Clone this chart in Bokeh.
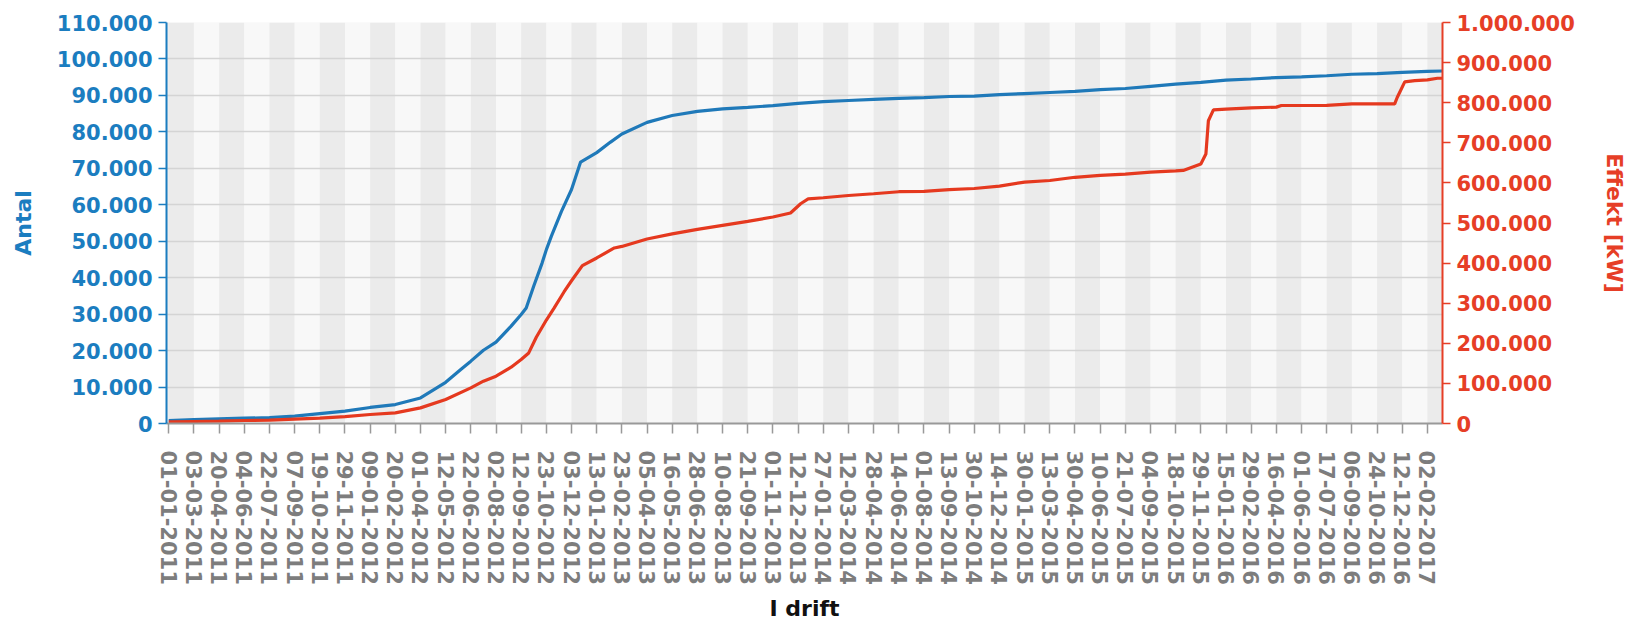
from bokeh.plotting import figure
from bokeh.models import Range1d, LinearAxis, FixedTicker
from bokeh.embed import file_html
from bokeh.resources import INLINE

# ---- data ----
date_labels = [
    "01-01-2011", "03-03-2011", "20-04-2011", "04-06-2011", "22-07-2011", "07-09-2011",
    "19-10-2011", "29-11-2011", "09-01-2012", "20-02-2012", "01-04-2012", "12-05-2012",
    "22-06-2012", "02-08-2012", "12-09-2012", "23-10-2012", "03-12-2012", "13-01-2013",
    "23-02-2013", "05-04-2013", "16-05-2013", "28-06-2013", "10-08-2013", "21-09-2013",
    "01-11-2013", "12-12-2013", "27-01-2014", "12-03-2014", "28-04-2014", "14-06-2014",
    "01-08-2014", "13-09-2014", "30-10-2014", "14-12-2014", "30-01-2015", "13-03-2015",
    "30-04-2015", "10-06-2015", "21-07-2015", "04-09-2015", "18-10-2015", "29-11-2015",
    "15-01-2016", "29-02-2016", "16-04-2016", "01-06-2016", "17-07-2016", "06-09-2016",
    "24-10-2016", "12-12-2016", "02-02-2017",
]

# category index (position along the date axis) of each sample
antal_idx = [0, 1, 2, 3, 4, 5, 6, 7, 8, 9, 10,
             11, 11.6, 12, 12.5, 13, 13.6, 14, 14.2, 14.5, 14.83,
             15, 15.2, 15.6, 16, 16.36,
             17, 17.55, 18, 19, 20, 21, 22, 23, 24, 25, 26, 27, 28, 29, 30, 31, 32, 33,
             34, 35, 36, 37, 38, 39, 40, 41, 42, 43, 44, 45, 46, 47, 48, 49, 50,
             50.6]
antal_val = [800, 1100, 1300, 1450, 1600, 2000, 2700, 3400, 4400, 5200, 7000,
             11300, 14800, 17100, 20100, 22300, 26700, 29900, 31700, 37700, 44000,
             47700, 51400, 58200, 64200, 71700,
             74300, 77200, 79400, 82600, 84500, 85600, 86300, 86700, 87200, 87800, 88300,
             88600, 88900, 89200, 89400, 89700, 89800, 90200, 90500, 90800, 91100,
             91600, 91900, 92500, 93100, 93600, 94200, 94500, 94900, 95100, 95400,
             95800, 96000, 96300, 96600,
             96700]

effekt_idx = [0, 1, 2, 3, 4, 5, 6, 7, 8, 9, 10, 11, 12, 12.5, 13, 13.6, 14,
              14.3, 14.6, 15, 15.3, 15.7, 16, 16.43,
              17, 17.7, 18, 19, 20, 21, 22, 23, 24,
              24.7, 25.1, 25.4,
              26, 27, 28, 29, 30, 31, 32, 33, 34, 35, 36, 37, 38, 39, 40,
              40.3,
              41, 41.2, 41.3, 41.5,
              42, 43, 44,
              44.2,
              45, 46, 47, 48,
              48.7, 48.8, 49.1, 49.5,
              50, 50.4, 50.6]
effekt_val = [4000, 5000, 5800, 7500, 8300, 10800, 13300, 17000, 22400, 26600, 39000,
              59800, 88900, 105500, 118000, 140400, 159500,
              176000, 215000, 258000, 287000, 328000, 356000, 393700,
              412800, 437700, 441600, 460000, 473000, 484000, 494000, 504000, 515000,
              525000, 548000, 560000,
              563000, 568600, 573000, 578000, 579000, 583000, 586000, 592000, 602000,
              606000, 614000, 619000, 622000, 627000, 630000,
              631000,
              647000, 672000, 755000, 782000,
              784000, 787000, 789000,
              793000,
              793000, 793500, 797000, 797000,
              797000, 813000, 852000, 855000,
              857000, 861000, 861000]

antal_ticks = [0, 10000, 20000, 30000, 40000, 50000, 60000, 70000, 80000, 90000, 100000, 110000]
effekt_ticks = [0, 100000, 200000, 300000, 400000, 500000, 600000, 700000, 800000, 900000, 1000000]

# ---- styles ----
BLUE = "#1b7dc0"
RED = "#e63e26"
BLUE_LINE = "#1f79b9"
RED_LINE = "#e5391f"
GREY = "#7d7d7d"
FONT = "DejaVu Sans"


def dotted(v):
    return f"{v:,}".replace(",", ".")


n = len(date_labels)
p = figure(width=1629, height=623, output_backend="svg", toolbar_location=None,
           x_range=Range1d(-0.09, n - 1 + 0.6), y_range=Range1d(0, 110000),
           min_border_left=166, min_border_right=187, min_border_top=22,
           min_border_bottom=200)
p.outline_line_color = None
p.background_fill_color = "#f8f8f8"
p.border_fill_color = "white"
p.xgrid.grid_line_color = None
p.ygrid.grid_line_color = "#d4d4d4"
p.ygrid.grid_line_width = 1.5
p.ygrid.ticker = FixedTicker(ticks=antal_ticks)

# alternating vertical bands, one per date interval
band_l = list(range(-1, n))
band_r = [b + 1 for b in band_l]
band_c = ["#ebebeb" if (b % 2 == 0 or b == -1) else "#f8f8f8" for b in band_l]
p.quad(left=band_l, right=band_r, bottom=0, top=110000, fill_color=band_c,
       line_color=None, level="image")

p.extra_y_ranges = {"right": Range1d(0, 1000000)}

p.line(antal_idx, antal_val, line_color=BLUE_LINE, line_width=3.2)
p.line(effekt_idx, effekt_val, line_color=RED_LINE, line_width=3.2, y_range_name="right")

# bottom axis
xa = p.xaxis[0]
xa.ticker = FixedTicker(ticks=list(range(n)))
xa.major_label_overrides = {i: lab for i, lab in enumerate(date_labels)}
xa.major_label_orientation = "vertical"
xa.axis_label = "I drift"
xa.axis_line_color = "#999999"
xa.axis_line_width = 2
xa.major_tick_line_color = "#999999"
xa.major_tick_line_width = 1.5
xa.major_tick_out = 10
xa.major_tick_in = 0
xa.minor_tick_line_color = None
xa.major_label_standoff = 17
xa.major_label_text_font = FONT
xa.major_label_text_font_style = "bold"
xa.major_label_text_font_size = "21px"
xa.major_label_text_color = GREY
xa.axis_label_text_font = FONT
xa.axis_label_text_font_style = "bold"
xa.axis_label_text_font_size = "22px"
xa.axis_label_text_color = "#111111"
xa.axis_label_standoff = 8

# left axis
ya = p.yaxis[0]
ya.ticker = FixedTicker(ticks=antal_ticks)
ya.major_label_overrides = {t: dotted(t) for t in antal_ticks}
ya.axis_label = "Antal"
ya.axis_line_color = BLUE
ya.axis_line_width = 2
ya.major_tick_line_color = BLUE
ya.major_tick_line_width = 1.5
ya.major_tick_out = 8
ya.major_tick_in = 0
ya.minor_tick_line_color = None
ya.major_label_standoff = 6
ya.major_label_text_font = FONT
ya.major_label_text_font_style = "bold"
ya.major_label_text_font_size = "21px"
ya.major_label_text_color = BLUE
ya.axis_label_text_font = FONT
ya.axis_label_text_font_style = "bold"
ya.axis_label_text_font_size = "22px"
ya.axis_label_text_color = BLUE
ya.axis_label_standoff = 18

# right axis
ra = LinearAxis(y_range_name="right", ticker=FixedTicker(ticks=effekt_ticks),
                axis_label="Effekt [kW]")
ra.major_label_overrides = {t: dotted(t) for t in effekt_ticks}
ra.axis_line_color = RED
ra.axis_line_width = 2
ra.major_tick_line_color = RED
ra.major_tick_line_width = 1.5
ra.major_tick_out = 8
ra.major_tick_in = 0
ra.minor_tick_line_color = None
ra.major_label_standoff = 6
ra.major_label_text_font = FONT
ra.major_label_text_font_style = "bold"
ra.major_label_text_font_size = "21px"
ra.major_label_text_color = RED
ra.axis_label_text_font = FONT
ra.axis_label_text_font_style = "bold"
ra.axis_label_text_font_size = "22px"
ra.axis_label_text_color = RED
ra.axis_label_standoff = 24
p.add_layout(ra, "right")

open("out.html", "w").write(file_html(p, INLINE))
